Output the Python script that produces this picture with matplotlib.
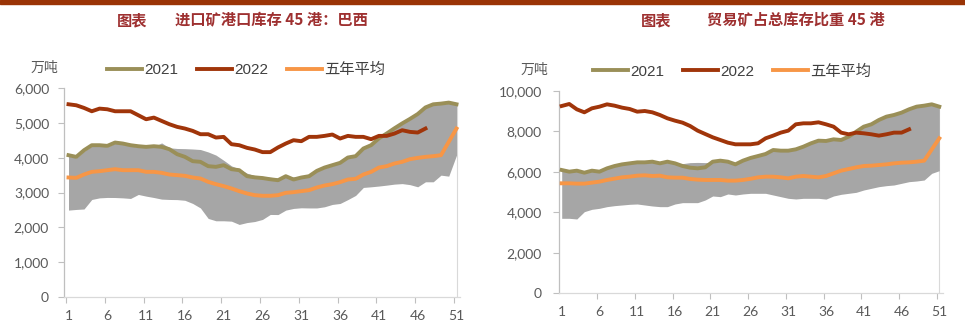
import matplotlib
matplotlib.use("Agg")
import matplotlib.pyplot as plt
from matplotlib.patches import Rectangle
from matplotlib.ticker import FixedLocator, FuncFormatter

plt.rcParams['font.family'] = ['Lato', 'Noto Sans CJK SC', 'DejaVu Sans']

weeks = list(range(1, 52))
xtick_weeks = [1, 6, 11, 16, 21, 26, 31, 36, 41, 46, 51]
series_names = ["2021", "2022", "五年平均"]

# 进口矿港口库存 45 港：巴西 (万吨)
br_2021 = [4077, 4029, 4220, 4364, 4364, 4345, 4441, 4412, 4364, 4335,
           4316, 4335, 4316, 4249, 4106, 4029, 3905, 3886, 3761, 3742,
           3790, 3675, 3646, 3474, 3440, 3420, 3385, 3358, 3473, 3378,
           3435, 3473, 3626, 3722, 3790, 3857, 4010, 4049, 4269, 4365,
           4560, 4700, 4850, 4990, 5120, 5260, 5450, 5540, 5560, 5589, 5541]
br_2022 = [5541, 5512, 5436, 5340, 5416, 5397, 5340, 5340, 5340, 5225,
           5110, 5158, 5062, 4967, 4891, 4843, 4776, 4680, 4680, 4584,
           4603, 4393, 4364, 4288, 4240, 4165, 4165, 4300, 4412, 4508,
           4479, 4604, 4604, 4632, 4671, 4556, 4632, 4604, 4604, 4537,
           4632, 4632, 4699, 4795, 4747, 4728, 4843]
br_avg = [3436, 3426, 3522, 3598, 3617, 3646, 3675, 3646, 3646, 3646,
          3598, 3598, 3570, 3522, 3503, 3484, 3436, 3407, 3311, 3244,
          3187, 3120, 3043, 2976, 2928, 2910, 2910, 2928, 2995, 3014,
          3043, 3071, 3148, 3206, 3244, 3302, 3378, 3397, 3522, 3598,
          3722, 3761, 3838, 3886, 3962, 4000, 4029, 4049, 4077, 4460, 4843]
br_high = [4050, 4000, 4190, 4340, 4340, 4320, 4420, 4390, 4340, 4310,
           4300, 4320, 4430, 4290, 4270, 4265, 4255, 4240, 4170, 4080,
           3930, 3770, 3680, 3560, 3490, 3470, 3440, 3420, 3480, 3450,
           3460, 3500, 3610, 3700, 3770, 3840, 3990, 4030, 4250, 4340,
           4540, 4680, 4830, 4970, 5100, 5240, 5430, 5520, 5540, 5570, 5520]
br_low = [2498, 2517, 2530, 2804, 2850, 2862, 2860, 2850, 2833, 2948,
          2900, 2860, 2814, 2804, 2800, 2780, 2690, 2560, 2259, 2191,
          2191, 2180, 2086, 2140, 2170, 2230, 2373, 2370, 2498, 2546,
          2565, 2560, 2560, 2594, 2661, 2689, 2800, 2920, 3150, 3168,
          3190, 3216, 3245, 3260, 3230, 3168, 3312, 3312, 3503, 3474, 4077]

# 贸易矿占总库存比重 45 港 (万吨)
tr_2021 = [6086, 6004, 6053, 5954, 6053, 6004, 6168, 6283, 6365, 6415,
           6464, 6464, 6497, 6415, 6497, 6415, 6283, 6201, 6168, 6218,
           6497, 6547, 6497, 6365, 6547, 6680, 6777, 6876, 7073, 7040,
           7040, 7106, 7238, 7402, 7534, 7518, 7600, 7567, 7732, 7979,
           8226, 8341, 8555, 8720, 8802, 8917, 9082, 9213, 9262, 9328, 9213]
tr_2022 = [9245, 9344, 9081, 8933, 9130, 9212, 9327, 9261, 9163, 9097,
           8965, 8998, 8933, 8801, 8636, 8521, 8423, 8258, 8028, 7863,
           7699, 7568, 7436, 7354, 7354, 7354, 7404, 7650, 7782, 7930,
           8028, 8341, 8390, 8390, 8440, 8341, 8226, 7930, 7848, 7930,
           7897, 7848, 7782, 7848, 7930, 7930, 8094]
tr_avg = [5429, 5429, 5413, 5413, 5462, 5511, 5594, 5659, 5725, 5758,
          5807, 5824, 5791, 5807, 5725, 5708, 5708, 5643, 5610, 5594,
          5594, 5594, 5561, 5561, 5594, 5650, 5724, 5757, 5757, 5724,
          5675, 5757, 5790, 5757, 5724, 5790, 5922, 6053, 6135, 6217,
          6283, 6300, 6332, 6365, 6414, 6447, 6464, 6497, 6546, 7100, 7650]
tr_high = [6060, 5980, 6030, 5930, 6030, 5980, 6140, 6260, 6340, 6390,
           6440, 6440, 6470, 6390, 6470, 6390, 6400, 6450, 6460, 6450,
           6470, 6520, 6470, 6340, 6520, 6650, 6750, 6850, 7050, 7010,
           7010, 7080, 7210, 7380, 7510, 7490, 7570, 7540, 7700, 7950,
           8200, 8310, 8530, 8690, 8780, 8890, 9050, 9190, 9240, 9300, 9190]
tr_low = [3701, 3701, 3668, 4030, 4145, 4195, 4277, 4326, 4359, 4392,
          4408, 4359, 4310, 4277, 4277, 4408, 4474, 4474, 4474, 4605,
          4803, 4770, 4902, 4852, 4902, 4935, 4935, 4935, 4852, 4770,
          4688, 4655, 4688, 4688, 4688, 4650, 4803, 4885, 4935, 4984,
          5099, 5181, 5263, 5313, 5346, 5428, 5510, 5543, 5592, 5921, 6053]

C2021 = '#9A8F58'
C2022 = '#A0350A'
CAVG = '#F79646'
GRAY = '#A6A6A6'
AXIS = '#BFBFBF'
TXT = '#595959'
TITLE = '#9E3030'

W, H = 965, 328
fig = plt.figure(figsize=(W / 100, H / 100), dpi=100)


def px(x0, y0, x1, y1):
    # pixel box -> figure fraction [left, bottom, width, height]
    return [x0 / W, 1 - y1 / H, (x1 - x0) / W, (y1 - y0) / H]


def panel(box, xlim, y21, y22, avg, low, high, ymax, ystep, legend_xy, unit_xy, pads):
    ax = fig.add_axes(box)
    ax.fill_between(weeks, low, high, color=GRAY, lw=0, zorder=1)
    ax.vlines(weeks[-1], 0, high[-1], color='#D9D9D9', lw=0.8, zorder=0.5)
    l21, = ax.plot(weeks, y21, color=C2021, lw=2.8, zorder=3, solid_joinstyle='round')
    l22, = ax.plot(weeks[:len(y22)], y22, color=C2022, lw=2.8, zorder=4, solid_joinstyle='round')
    lav, = ax.plot(weeks, avg, color=CAVG, lw=2.8, zorder=3, solid_joinstyle='round')

    ax.set_xlim(*xlim)
    ax.set_ylim(0, ymax)
    ax.set_yticks(range(0, ymax + 1, ystep))
    ax.yaxis.set_major_formatter(FuncFormatter(lambda v, p: f"{int(v):,}"))
    ax.set_xticks(xtick_weeks)
    ax.set_xticklabels([str(w) for w in xtick_weeks])
    ax.xaxis.set_minor_locator(FixedLocator([w - 0.32 for w in xtick_weeks]))
    ax.tick_params(axis='x', which='major', length=0, pad=pads[0], labelsize=10, labelcolor=TXT)
    ax.tick_params(axis='x', which='minor', length=4, color=AXIS, width=0.8)
    ax.tick_params(axis='y', length=4, color=AXIS, width=0.8, pad=pads[1], labelsize=10, labelcolor=TXT)

    for s in ['top', 'right']:
        ax.spines[s].set_visible(False)
    ax.spines['left'].set_color(AXIS)
    ax.spines['bottom'].set_color('#D9D9D9')
    ax.spines['left'].set_linewidth(0.9)
    ax.spines['bottom'].set_linewidth(0.9)

    leg = ax.legend([l21, l22, lav], series_names, ncol=3, loc='center left',
                    bbox_to_anchor=(legend_xy[0] / W, 1 - legend_xy[1] / H),
                    bbox_transform=fig.transFigure, frameon=False,
                    handlelength=2.3, handletextpad=0.15, columnspacing=1.2,
                    borderpad=0, borderaxespad=0,
                    prop={'family': ['Liberation Sans', 'Noto Sans CJK SC'], 'size': 11})
    for t in leg.get_texts():
        t.set_color('#404040')
    fig.text(unit_xy[0] / W, 1 - unit_xy[1] / H, "万吨", ha='center', va='center',
             fontsize=10, color=TXT, family=['Noto Sans CJK SC'])
    return ax


panel(px(64.3, 88.3, 460, 297), (0.459, 51.45), br_2021, br_2022, br_avg,
      br_low, br_high, 6000, 1000, (107, 70), (44, 68), (9, 7))
panel(px(559.3, 90.7, 943, 293.3), (0.682, 51.49), tr_2021, tr_2022, tr_avg,
      tr_low, tr_high, 10000, 2000, (593, 71.5), (534, 70), (9, 8.5))

# top band and titles
fig.patches.append(Rectangle((0, 1 - 3.5 / H), 1, 3.5 / H, transform=fig.transFigure,
                             color='#9A3406', zorder=0))
tfont = dict(fontsize=11, color=TITLE, fontweight='bold', family=['Noto Sans CJK SC'],
             va='center', ha='left')
fig.text(117 / W, 1 - 20 / H, "图表", **tfont)
fig.text(175 / W, 1 - 20 / H, "进口矿港口库存 45 港：巴西", **tfont)
fig.text(641 / W, 1 - 20 / H, "图表", **tfont)
fig.text(707 / W, 1 - 20 / H, "贸易矿占总库存比重 45 港", **tfont)

fig.savefig("out.png", dpi=100)
